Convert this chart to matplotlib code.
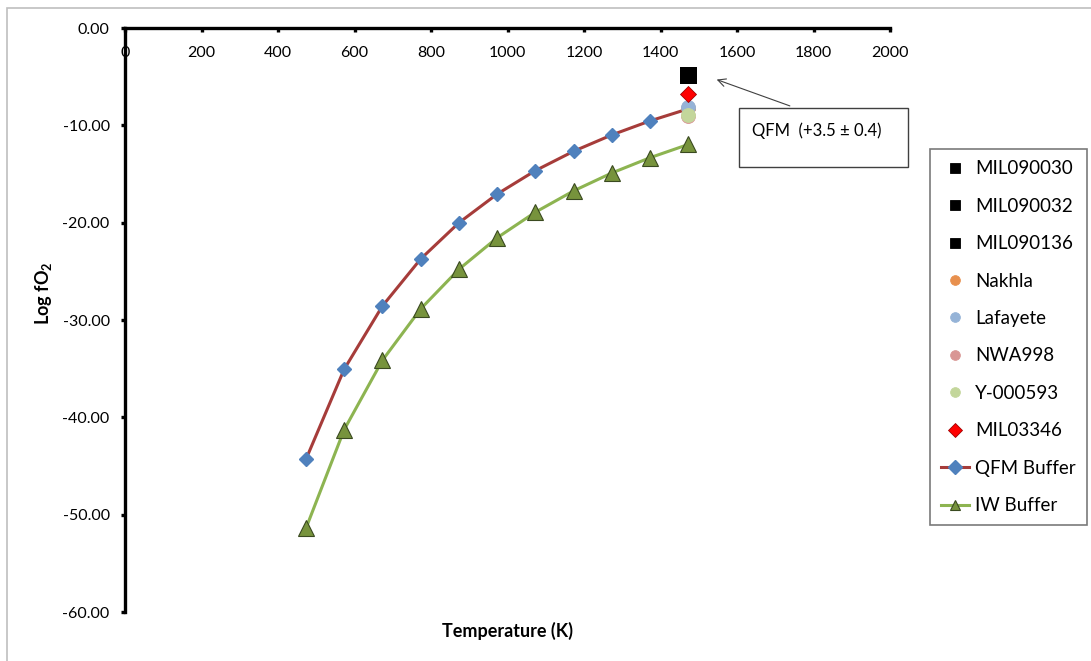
import matplotlib
matplotlib.use("Agg")
import matplotlib.pyplot as plt
from matplotlib.patches import Rectangle
from matplotlib.ticker import FormatStrFormatter

plt.rcParams['font.family'] = ['Lato', 'DejaVu Sans']
plt.rcParams['mathtext.fontset'] = 'custom'
plt.rcParams['mathtext.bf'] = 'Lato:bold'
plt.rcParams['mathtext.rm'] = 'Lato'

# buffer curves (temperature in K, log fO2)
temps = [473, 573, 673, 773, 873, 973, 1073, 1173, 1273, 1373, 1473]
qfm_buffer = [-44.32, -35.06, -28.56, -23.73, -20.01, -17.06, -14.65, -12.66, -10.98, -9.54, -8.30]
iw_buffer = [-51.41, -41.27, -34.14, -28.86, -24.79, -21.55, -18.92, -16.73, -14.89, -13.32, -11.96]

# meteorite samples
sample_names = ['MIL090030', 'MIL090032', 'MIL090136', 'Nakhla', 'Lafayete',
                'NWA998', 'Y-000593', 'MIL03346']
sample_temp = [1473, 1473, 1473, 1473, 1473, 1473, 1473, 1473]
sample_logfo2 = [-4.83, -4.83, -4.83, -8.2, -8.15, -9.05, -8.95, -6.78]
sample_colors = ['black', 'black', 'black', '#E8904E', '#95B3D7', '#D99694', '#C3D69B', '#FF0000']
sample_markers = ['s', 's', 's', 'o', 'o', 'o', 'o', 'D']
sample_sizes = [11.5, 11.5, 11.5, 10, 10, 10, 10, 8]

fig = plt.figure(figsize=(10.91, 6.61), dpi=100)
ax = fig.add_axes([125 / 1091, 1 - 612 / 661, (890 - 125) / 1091, (612 - 28) / 661])

ax.plot(temps, qfm_buffer, color='#A63C3A', lw=2.2, marker='D', ms=7.5,
        mfc='#4F81BD', mec='#4F81BD', label='QFM Buffer', zorder=3)
ax.plot(temps, iw_buffer, color='#8DB451', lw=2.2, marker='^', ms=11,
        mfc='#77933C', mec='#3A4A20', mew=0.8, label='IW Buffer', zorder=3)

for name, t, v, c, m, s in zip(sample_names, sample_temp, sample_logfo2,
                                sample_colors, sample_markers, sample_sizes):
    ec = '#A00000' if m == 'D' else c
    ax.plot([t], [v], ls='none', marker=m, ms=s, mfc=c, mec=ec, mew=0.6,
            label=name, zorder=4)

ax.set_xlim(0, 2000)
ax.set_ylim(-60, 0)
ax.set_xticks(range(0, 2001, 200))
ax.set_yticks(range(-60, 1, 10))
ax.yaxis.set_major_formatter(FormatStrFormatter('%.2f'))

ax.spines['top'].set_visible(False)
ax.spines['right'].set_visible(False)
ax.spines['bottom'].set_position(('data', 0))
for sp in ('bottom', 'left'):
    ax.spines[sp].set_linewidth(2.4)
ax.tick_params(axis='both', length=3, width=2.4, labelsize=11.5, colors='black')
ax.tick_params(axis='x', pad=10)
ax.tick_params(axis='y', pad=8)

fig.text(508 / 1091, 1 - 631 / 661, 'Temperature (K)', fontsize=13, fontweight='bold',
         ha='center', va='center')
fig.text(44 / 1091, 1 - 293 / 661, r'Log fO$_\mathbf{2}$', fontsize=13, fontweight='bold',
         rotation=90, ha='center', va='center')

all_handles, all_labels = ax.get_legend_handles_labels()
order = sample_names + ['QFM Buffer', 'IW Buffer']
lookup = dict(zip(all_labels, all_handles))
leg = fig.legend([lookup[n] for n in order], order, loc='upper left',
                 bbox_to_anchor=(930 / 1091, 1 - 149 / 661), fontsize=13.5,
                 frameon=True, fancybox=False, edgecolor='#595959',
                 labelspacing=1.09, handlelength=1.5, handletextpad=0.3,
                 borderpad=0.6, borderaxespad=0)
leg.get_frame().set_linewidth(1.2)
for h in leg.legend_handles:
    h.set_markersize(7)

# annotation box + arrow
fig.patches.append(Rectangle((739 / 1091, 1 - 167 / 661), 169 / 1091, 59 / 661,
                             transform=fig.transFigure, fill=False,
                             edgecolor='#404040', lw=1.0))
fig.text(752 / 1091, 1 - 131 / 661, 'QFM  (+3.5 \u00b1 0.4)', fontsize=12,
         ha='left', va='center')
ax.annotate('', xy=(1540, -5.2), xytext=(1745, -8.1),
            arrowprops=dict(arrowstyle='->', color='#404040', lw=0.8,
                            mutation_scale=14), annotation_clip=False)

# outer chart border (top and left edges visible)
fig.patches.append(Rectangle((7 / 1091, -0.1), 1.2, 1.1 - 8 / 661,
                             transform=fig.transFigure, fill=False,
                             edgecolor='#BFBFBF', lw=1.2))

fig.savefig('out.png', dpi=100)
